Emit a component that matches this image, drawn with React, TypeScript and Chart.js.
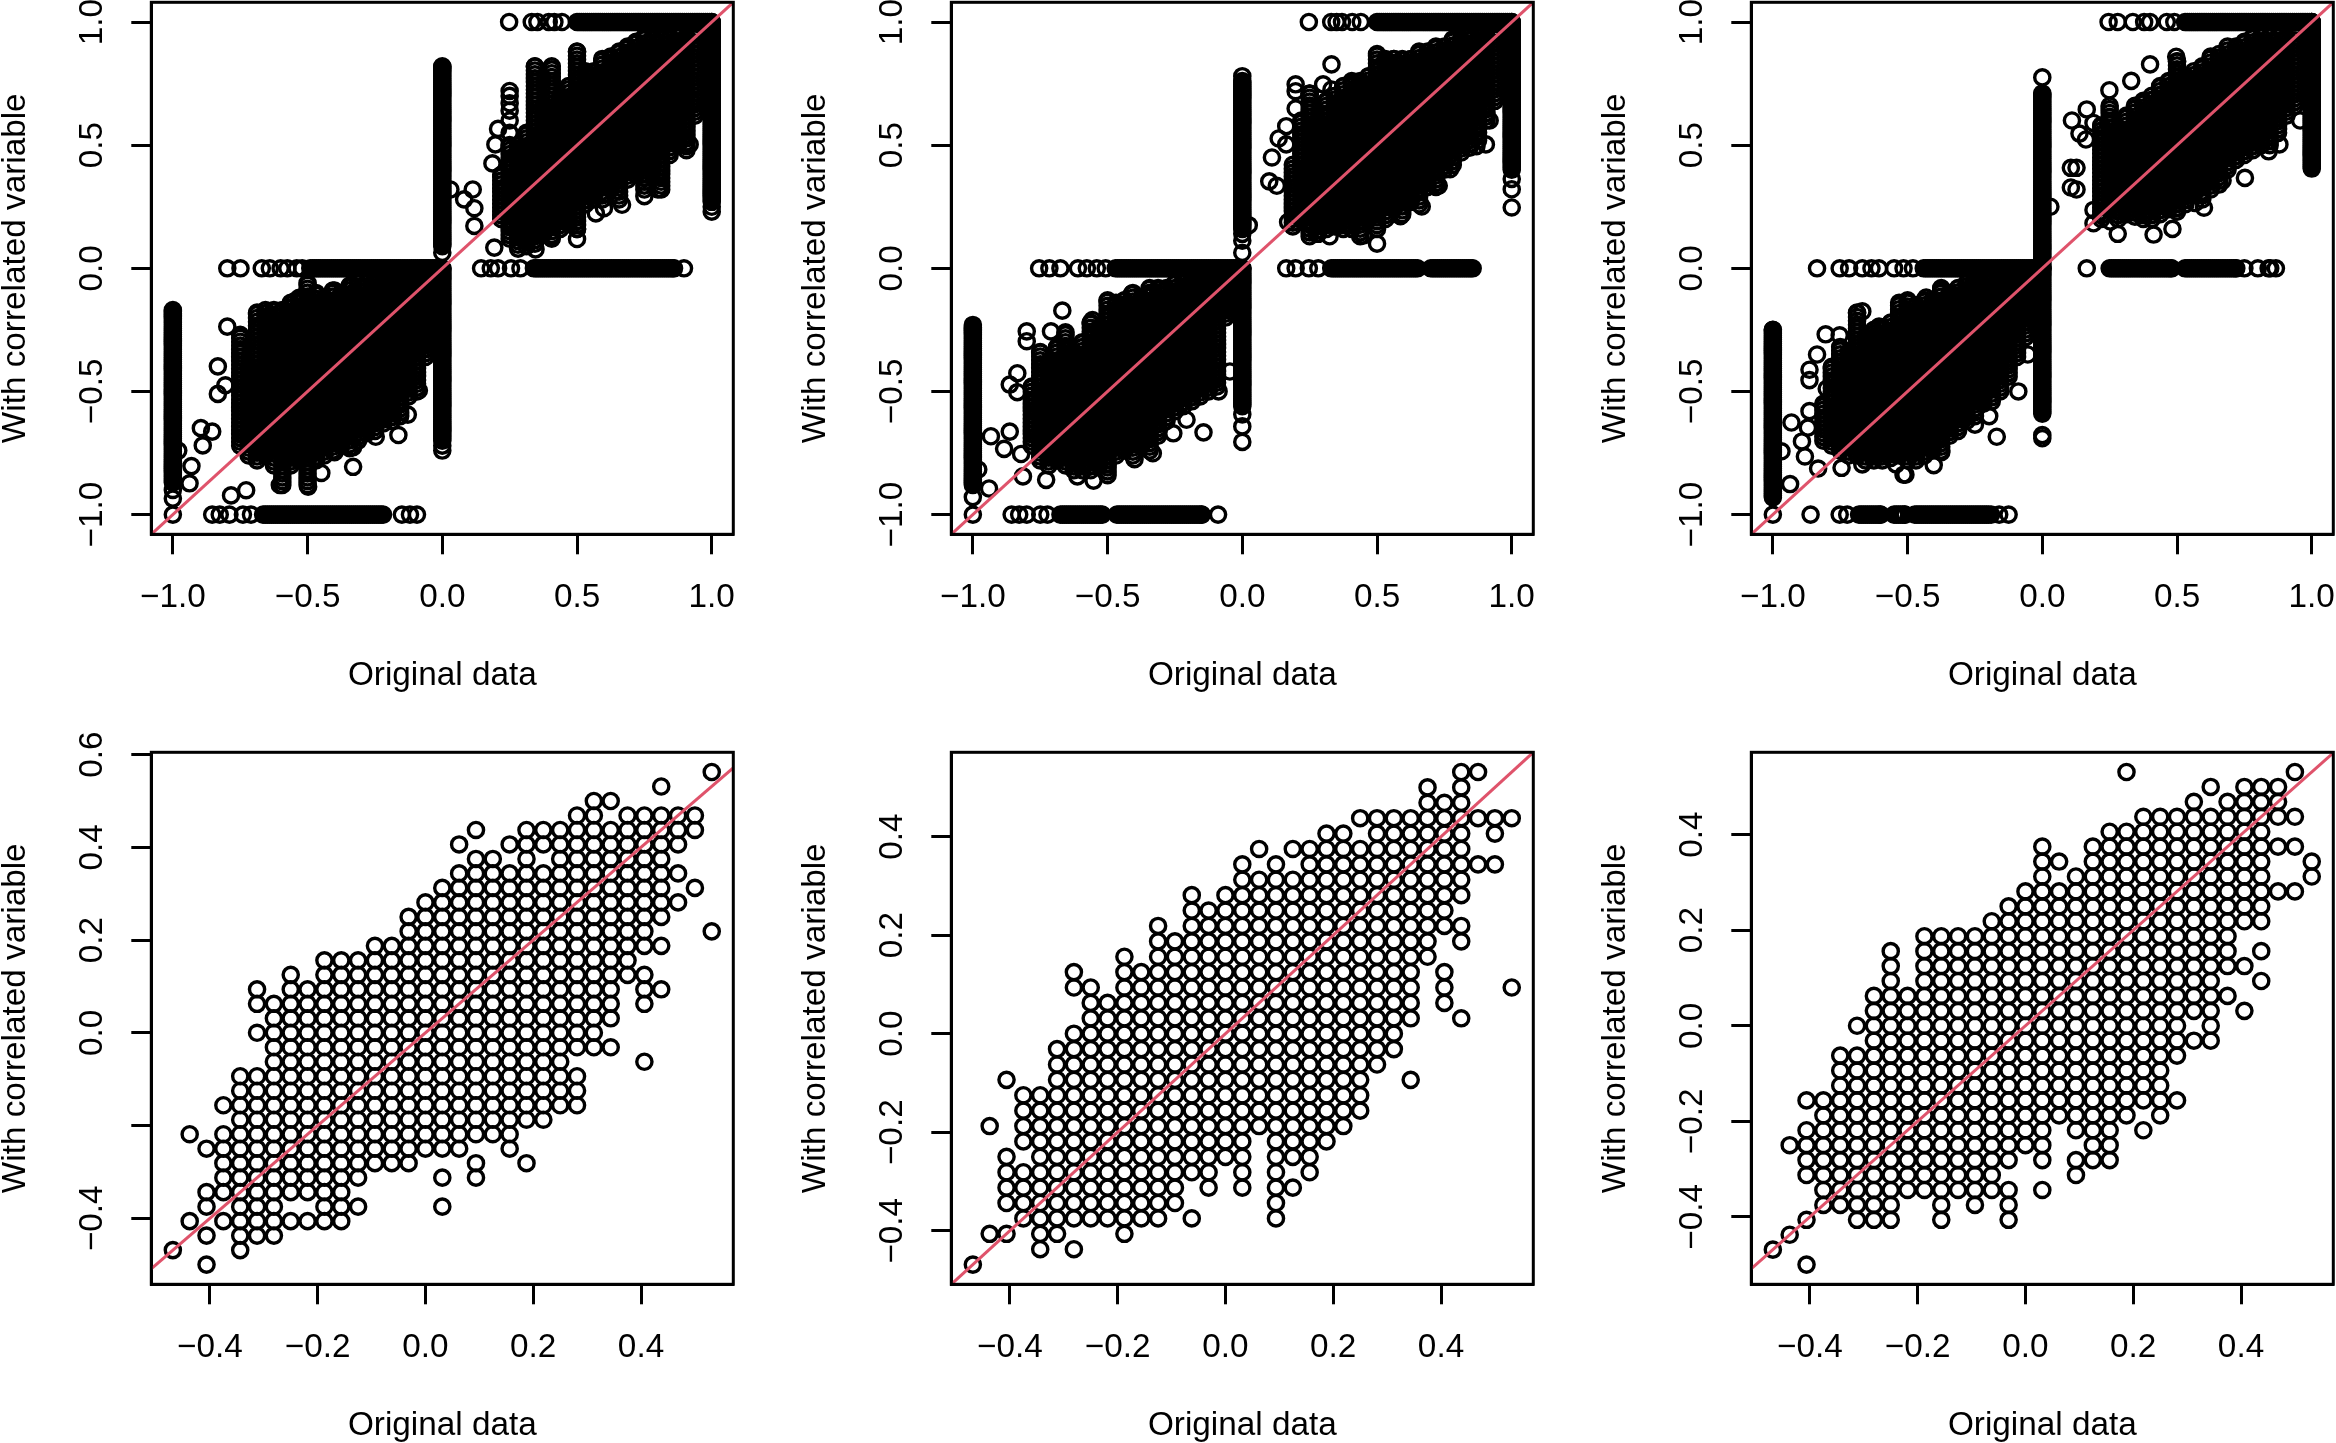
import React, { useEffect, useRef } from "react";
import Chart from "chart.js/auto";

const xTitle = "Original data";
const yTitle = "With correlated variable";

// ---- tick values and labels ----
const topTicks = [-1, -0.5, 0, 0.5, 1];
const topTickLabels = ["\u22121.0", "\u22120.5", "0.0", "0.5", "1.0"];
const lowXTicks = [-0.4, -0.2, 0, 0.2, 0.4];
const lowXLabels = ["\u22120.4", "\u22120.2", "0.0", "0.2", "0.4"];
const p4YTicks = [-0.4, -0.2, 0, 0.2, 0.4, 0.6];
const p4YLabels = ["\u22120.4", "", "0.0", "0.2", "0.4", "0.6"];
const p56YTicks = [-0.4, -0.2, 0, 0.2, 0.4];
const p56YLabels = ["\u22120.4", "\u22120.2", "0.0", "0.2", "0.4"];

// ---- bottom row: values sit on a 1/32 grid. [column, hi, lo, hi, lo, ...] ----
const p4Cols = [
  [-15,-15,-15],[-14,-7,-7,-13,-13],[-13,-8,-8,-11,-12,-14,-14,-16,-16],[-12,-5,-5,-7,-11,-13,-13],
  [-11,-3,-15],[-10,3,2,0,0,-3,-14],[-9,2,-14],[-8,4,-11,-13,-13],[-7,3,-11,-13,-13],[-6,5,-13],[-5,5,-13],
  [-4,5,-10,-12,-12],[-3,6,-9],[-2,6,-9],[-1,8,-9],[0,9,-8],[1,10,-8,-10,-10,-12,-12],[2,13,13,11,-8],
  [3,14,14,12,-7,-9,-10],[4,12,-7],[5,13,13,11,-8],[6,14,-6,-9,-9],[7,14,13,11,-6],[8,14,-5],[9,15,-1,-3,-5],
  [10,16,-1],[11,16,16,14,1,-1,-1],[12,15,4],[13,15,6,4,2,-2,-2],[14,17,17,15,8,6,6,3,3],[15,15,13,11,11,9,9],
  [16,15,14,10,10],[17,18,18,7,7],
];
const p5Cols = [
  [-15,-15,-15],[-14,-6,-6,-13,-13],[-13,-3,-3,-8,-11,-13,-13],[-12,-4,-7,-9,-12],[-11,-4,-14],[-10,-1,-13],
  [-9,4,3,0,-12,-14,-14],[-8,3,-12],[-7,2,-12],[-6,5,-13],[-5,4,-12],[-4,7,-12],[-3,6,-11],[-2,9,-9,-12,-12],
  [-1,8,-10],[0,9,-8],[1,11,-10],[2,12,12,10,-6],[3,11,-12],[4,12,12,10,-8,-10,-10],[5,12,-9],[6,13,-7],[7,13,-6],
  [8,14,14,12,-5],[9,14,-2],[10,14,-1],[11,14,1,-3,-3],[12,16,5],[13,15,7,4,2],[14,17,9,7,6,1,1],
  [15,17,17,14,14,11,11],[16,14,13,11,11],[17,14,14,3,3],
];
const p6Cols = [
  [-15,-15,-15],[-14,-8,-8,-14,-14],[-13,-5,-5,-7,-10,-13,-13,-16,-16],[-12,-5,-12],[-11,-2,-12],[-10,0,0,-2,-13],
  [-9,2,-13],[-8,5,-13],[-7,2,-11],[-6,6,-11],[-5,6,-13],[-4,6,-11],[-3,6,-12],[-2,7,-11],[-1,8,-9,-11,-13],
  [0,9,-8],[1,12,-9,-11,-11],[2,11,11,9,-6],[3,10,-7,-9,-10],[4,12,-9],[5,13,-9],[6,17,17,13,-6],[7,14,-5,-7,-7],
  [8,14,-6],[9,14,-2,-5,-5],[10,15,1,-1,-1],[11,16,16,14,-1],[12,15,4,2,2],[13,16,7,4,4,1,1],[14,16,7,5,5,3,3],
  [15,16,14,12,12,9,9],[16,17,17,14,14,12,12,9,9],[17,11,10],
];

// ---- top row: solid clouds read as [column/32, y low, y high] ----
const p1Core = [
  [7,.2,.38],[8,.12,.5],[9,.08,.5],[10,.09,.55],[11,.1,.82],[12,.14,.66],[13,.12,.82],[14,.16,.7],[15,.18,.74],
  [16,.16,.88],[17,.26,.8],[18,.28,.8],[19,.28,.85],[20,.32,.86],[21,.28,.88],[22,.36,.9],[23,.38,.92],[24,.32,.94],
  [25,.4,.94],[26,.32,.94],[27,.46,.94],[28,.5,.94],[29,.48,.94],[30,.62,.96],
  [-24,-.72,-.27],[-23,-.76,-.4],[-22,-.78,-.18],[-21,-.76,-.17],[-20,-.8,-.17],[-19,-.88,-.17],[-18,-.8,-.14],
  [-17,-.78,-.12],[-16,-.88,-.06],[-15,-.78,-.1],[-14,-.76,-.12],[-13,-.74,-.09],[-12,-.72,-.1],[-11,-.73,-.07],
  [-10,-.7,-.06],[-9,-.67,-.06],[-8,-.66,-.04],[-7,-.63,-.02],[-6,-.62,-.02],[-5,-.6,-.02],[-4,-.52,-.02],
  [-3,-.5,-.02],[-2,-.36,-.02],[-1,-.33,-.02],
];
const p2Core = [
  [6,.17,.42],[7,.2,.6],[8,.13,.71],[9,.14,.6],[10,.16,.68],[11,.17,.7],[12,.16,.74],[13,.16,.76],[14,.13,.76],
  [15,.2,.78],[16,.16,.87],[17,.2,.85],[18,.24,.85],[19,.22,.85],[20,.27,.85],[21,.26,.88],[22,.33,.88],[23,.33,.9],
  [24,.4,.9],[25,.42,.93],[26,.47,.93],[27,.49,.94],[28,.52,.94],[29,.6,.94],[30,.68,.96],
  [-25,-.72,-.48],[-24,-.78,-.34],[-23,-.8,-.38],[-22,-.78,-.32],[-21,-.8,-.26],[-20,-.82,-.34],[-19,-.82,-.3],
  [-18,-.82,-.22],[-17,-.8,-.24],[-16,-.84,-.13],[-15,-.76,-.14],[-14,-.74,-.13],[-13,-.76,-.1],[-12,-.72,-.12],
  [-11,-.74,-.08],[-10,-.68,-.08],[-9,-.62,-.08],[-8,-.58,-.06],[-7,-.56,-.03],[-6,-.54,-.03],[-5,-.52,-.02],
  [-4,-.5,-.02],[-3,-.48,-.02],[-2,-.2,-.02],[-1,-.18,-.02],
];
const p3Core = [
  [7,.2,.58],[8,.24,.66],[9,.2,.56],[10,.22,.62],[11,.21,.66],[12,.2,.68],[13,.2,.7],[14,.22,.74],[15,.24,.76],
  [16,.23,.84],[17,.26,.78],[18,.3,.8],[19,.28,.82],[20,.32,.86],[21,.34,.87],[22,.4,.9],[23,.44,.9],[24,.46,.92],
  [25,.48,.94],[26,.5,.94],[27,.5,.94],[28,.55,.94],[29,.62,.94],[30,.66,.96],
  [-26,-.7,-.55],[-25,-.72,-.4],[-24,-.74,-.32],[-23,-.76,-.34],[-22,-.76,-.18],[-21,-.78,-.28],[-20,-.78,-.25],
  [-19,-.78,-.24],[-18,-.77,-.22],[-17,-.76,-.14],[-16,-.78,-.13],[-15,-.78,-.15],[-14,-.76,-.13],[-13,-.74,-.13],
  [-12,-.74,-.08],[-11,-.68,-.1],[-10,-.66,-.08],[-9,-.62,-.06],[-8,-.6,-.05],[-7,-.55,-.03],[-6,-.54,-.02],
  [-5,-.5,-.02],[-4,-.44,-.02],[-3,-.36,-.02],[-2,-.28,-.02],[-1,-.2,-.02],
];

// vertical strips [x, y low, y high] and horizontal strips [y, x low, x high]
const p1Strips = [[-1,-.87,-.17],[0,-.7,0],[0,.09,.82],[1,.27,1]];
const p1Rows = [[1,.5,1],[0,-.49,0],[0,.34,.86],[-1,-.665,-.22]];
const p2Strips = [[-1,-.88,-.24],[0,-.56,0],[0,.16,.76],[1,.4,1]];
const p2Rows = [[1,.5,1],[0,-.47,0],[0,.33,.65],[0,.7,.855],[-1,-.675,-.52],[-1,-.465,-.15]];
const p3Strips = [[-1,-.93,-.25],[0,-.59,0],[0,0,.71],[1,.405,1]];
const p3Rows = [[1,.53,1],[0,-.44,0],[0,.25,.48],[0,.53,.72],[-1,-.68,-.6],[-1,-.55,-.51],[-1,-.473,-.2]];

// single readable points [x, y]
const p1Single = [
  [-1,-.9],[-1,-.935],[-1,-1],[0,-.72],[0,-.74],[0,.063],[.03,.32],[1,.25],[1,.23],
  [.248,1],[.332,1],[.353,1],[.395,1],[.416,1],[.444,1],
  [.25,.72],[.25,.7],[.25,.67],[.25,.64],[.25,.6],[.25,.55],
  [-.798,0],[-.749,0],[-.67,0],[-.64,0],[-.6,0],[-.575,0],[-.54,0],[-.52,0],
  [.144,0],[.18,0],[.207,0],[.255,0],[.29,0],[.897,0],
  [-.854,-1],[-.826,-1],[-.79,-1],[-.74,-1],[-.71,-1],[-.15,-1],[-.12,-1],[-.094,-1],
  [.113,.32],[.081,.28],[.119,.244],[.119,.172],[.193,.084],[.346,.077],[.5,.119],[.5,.16],[.402,.126],[.57,.223],
  [.6,.244],[.667,.258],[.75,.293],[.8,.32],[.8,.39],[.918,.503],[.89,.53],[.925,.677],[.207,.566],[.197,.503],[.186,.426],
  [-.798,-.237],[-.833,-.398],[-.833,-.51],[-.805,-.475],[-.896,-.649],[-.854,-.663],[-.889,-.719],[-.931,-.803],
  [-.938,-.873],[-.98,-.74],[-.784,-.922],[-.728,-.901],[-.603,-.88],[-.498,-.887],[-.449,-.831],[-.331,-.806],
  [-.4,-.747],[-.331,-.726],[-.247,-.684],[-.163,-.677],[-.128,-.594],[-.087,-.496],[-.4,-.09],[-.547,-.133],[-.331,-.07],
];
const p2Single = [
  [-1,-.23],[-1,-.929],[-1,-1],[-.94,-.894],[-.98,-.817],[0,-.705],[0,-.642],[0,-.593],[0,.78],[0,.063],[0,.112],[0,.14],
  [.024,.175],[1,.247],[1,.321],[1,.363],
  [.247,1],[.33,1],[.35,1],[.37,1],[.408,1],[.44,1],
  [-.754,0],[-.716,0],[-.675,0],[-.61,0],[-.577,0],[-.54,0],[-.507,0],
  [.163,0],[.198,0],[.247,0],[.282,0],
  [-.856,-1],[-.828,-1],[-.8,-1],[-.75,-1],[-.723,-1],[-.09,-1],
  [.331,.828],[.198,.747],[.198,.719],[.198,.649],[.3,.747],[.331,.726],[.25,.709],[.408,.747],[.163,.577],[.135,.527],
  [.163,.503],[.11,.45],[.1,.353],[.128,.335],[.17,.188],[.275,.14],[.324,.13],[.45,.133],[.5,.1],[.587,.212],[.666,.251],
  [.729,.335],[.771,.402],[.904,.503],[.869,.496],[.918,.6],[.859,.566],
  [-.668,-.172],[-.71,-.256],[-.8,-.256],[-.8,-.296],[-.835,-.426],[-.863,-.472],[-.835,-.503],[-.863,-.663],[-.933,-.682],
  [-.884,-.733],[-.821,-.754],[-.814,-.845],[-.728,-.859],[-.612,-.845],[-.552,-.862],[-.5,-.796],[-.4,-.775],[-.332,-.751],
  [-.256,-.67],[-.144,-.666],[-.207,-.615],[-.088,-.5],[-.046,-.419],[-.095,-.426],[-.41,-.105],[-.556,-.21],[-.33,-.098],
];
const p3Single = [
  [-1,-1],[-.936,-.876],[-.968,-.743],[0,-.677],[0,-.69],[0,.775],[.03,.25],
  [.246,1],[.28,1],[.336,1],[.378,1],[.4,1],[.462,1],[.49,1],
  [-.836,0],[-.752,0],[-.717,0],[-.668,0],[-.634,0],[-.606,0],[-.55,0],[-.515,0],[-.48,0],
  [.165,0],[.75,0],[.8,0],[.84,0],[.846,0],[.867,0],
  [-.86,-1],[-.752,-1],[-.724,-1],[-.19,-1],[-.16,-1],[-.125,-1],
  [.4,.828],[.497,.859],[.33,.761],[.249,.723],[.165,.645],[.11,.6],[.138,.547],[.162,.523],[.19,.59],[.127,.408],[.106,.408],
  [.106,.328],[.127,.32],[.19,.237],[.19,.183],[.28,.14],[.253,.19],[.413,.137],[.483,.16],[.6,.246],[.567,.265],[.497,.244],
  [.669,.356],[.752,.367],[.88,.503],[.84,.475],[.957,.6],
  [-.668,-.175],[-.606,-.237],[-.752,-.272],[-.804,-.268],[-.836,-.35],[-.864,-.412],[-.864,-.454],[-.8,-.489],[-.864,-.58],
  [-.931,-.626],[-.87,-.647],[-.892,-.703],[-.881,-.764],[-.832,-.813],[-.745,-.81],[-.668,-.796],[-.543,-.796],[-.508,-.838],
  [-.515,-.838],[-.403,-.799],[-.375,-.747],[-.25,-.635],[-.169,-.684],[-.197,-.6],[-.089,-.5],[-.054,-.35],[-.431,-.119],
  [-.375,-.088],[-.257,-.063],
];

const diagonal = [{ x: -2, y: -2 }, { x: 2, y: 2 }];

type Pt = { x: number; y: number };

function fromGridColumns(cols: number[][]): Pt[] {
  const out: Pt[] = [];
  for (const c of cols) {
    for (let i = 1; i < c.length; i += 2) {
      for (let j = c[i]; j >= c[i + 1]; j--) out.push({ x: c[0] / 32, y: j / 32 });
    }
  }
  return out;
}

function fromCloud(core: number[][], strips: number[][], rows: number[][], single: number[][]): Pt[] {
  const out: Pt[] = [];
  for (const [k, lo, hi] of core) {
    for (let y = lo; y < hi; y += 1 / 64) out.push({ x: k / 32, y });
    out.push({ x: k / 32, y: hi });
  }
  for (const [x, lo, hi] of strips) {
    for (let y = lo; y < hi; y += 1 / 128) out.push({ x, y });
    out.push({ x, y: hi });
  }
  for (const [y, lo, hi] of rows) {
    for (let x = lo; x < hi; x += 1 / 128) out.push({ x, y });
    out.push({ x: hi, y });
  }
  for (const [x, y] of single) out.push({ x, y });
  return out;
}

const FONT = "'Liberation Sans', Arial, sans-serif";
const LW = 3;

const boxPlugin = {
  id: "box",
  afterDatasetsDraw(chart: any) {
    const { ctx, chartArea: a } = chart;
    ctx.save();
    ctx.strokeStyle = "#000";
    ctx.lineWidth = LW;
    ctx.strokeRect(a.left, a.top, a.right - a.left, a.bottom - a.top);
    ctx.restore();
  },
};

type PanelDef = {
  left: number; top: number;
  pts: Pt[];
  xr: number[]; yr: number[];
  xt: number[]; xl: string[]; yt: number[]; yl: string[];
};

// every canvas starts 50px above its frame, so tick labels above the frame are kept
const CW = 800, CH = 800;
const PLOT_TOP = 52.3, PLOT_BOTTOM = 584.3, PLOT_LEFT = 151.3, PLOT_RIGHT = 733.3, XH = 155;

const panels: PanelDef[] = [
  { left: 0, top: -50, pts: fromCloud(p1Core, p1Strips, p1Rows, p1Single), xr: [-1.08, 1.08], yr: [-1.08, 1.08], xt: topTicks, xl: topTickLabels, yt: topTicks, yl: topTickLabels },
  { left: 800, top: -50, pts: fromCloud(p2Core, p2Strips, p2Rows, p2Single), xr: [-1.08, 1.08], yr: [-1.08, 1.08], xt: topTicks, xl: topTickLabels, yt: topTicks, yl: topTickLabels },
  { left: 1600, top: -50, pts: fromCloud(p3Core, p3Strips, p3Rows, p3Single), xr: [-1.08, 1.08], yr: [-1.08, 1.08], xt: topTicks, xl: topTickLabels, yt: topTicks, yl: topTickLabels },
  { left: 0, top: 700, pts: fromGridColumns(p4Cols), xr: [-0.50875, 0.57125], yr: [-0.5425, 0.605], xt: lowXTicks, xl: lowXLabels, yt: p4YTicks, yl: p4YLabels },
  { left: 800, top: 700, pts: fromGridColumns(p5Cols), xr: [-0.50875, 0.57125], yr: [-0.50875, 0.57125], xt: lowXTicks, xl: lowXLabels, yt: p56YTicks, yl: p56YLabels },
  { left: 1600, top: 700, pts: fromGridColumns(p6Cols), xr: [-0.50875, 0.57125], yr: [-0.54125, 0.5725], xt: lowXTicks, xl: lowXLabels, yt: p56YTicks, yl: p56YLabels },
];

function Panel({ def }: { def: PanelDef }) {
  const ref = useRef<HTMLCanvasElement | null>(null);
  useEffect(() => {
    if (!ref.current) return;
    const font = { family: FONT, size: 33.3 };
    const grid = { display: true, drawOnChartArea: false, drawTicks: true, tickLength: 20, tickWidth: LW, tickColor: "#000", color: "#000" };
    const noPad = (s: any) => { s.paddingTop = 0; s.paddingBottom = 0; s.paddingLeft = 0; s.paddingRight = 0; };
    const chart = new Chart(ref.current, {
      type: "scatter",
      data: {
        datasets: [
          { type: "line", data: diagonal, borderColor: "#DF536B", borderWidth: 3, pointRadius: 0, fill: false, clip: 0, tension: 0 },
          { data: def.pts, pointStyle: "circle", pointRadius: 7.6, pointBorderWidth: 3.4, pointBorderColor: "#000", pointBackgroundColor: "rgba(0,0,0,0)", showLine: false, clip: 0 },
        ],
      } as any,
      options: {
        animation: false,
        responsive: false,
        devicePixelRatio: 1,
        events: [],
        layout: { padding: { left: 0, top: PLOT_TOP, right: CW - PLOT_RIGHT, bottom: CH - PLOT_BOTTOM - XH } },
        plugins: { legend: { display: false }, tooltip: { enabled: false } },
        scales: {
          x: {
            type: "linear", position: "bottom", min: def.xr[0], max: def.xr[1],
            afterBuildTicks: (s: any) => { s.ticks = def.xt.map((value) => ({ value })); },
            afterFit: (s: any) => { s.height = XH; noPad(s); },
            ticks: { autoSkip: false, maxRotation: 0, minRotation: 0, color: "#000", font, padding: 24, callback: (v: any) => def.xl[def.xt.indexOf(v)] },
            grid, border: { display: true, color: "#000", width: LW },
            title: { display: true, text: xTitle, color: "#000", font: { ...font, lineHeight: 0.8 }, padding: 0 },
          },
          y: {
            type: "linear", position: "left", min: def.yr[0], max: def.yr[1],
            afterBuildTicks: (s: any) => { s.ticks = def.yt.map((value) => ({ value })); },
            afterFit: (s: any) => { s.width = PLOT_LEFT; noPad(s); },
            ticks: { autoSkip: false, maxRotation: 90, minRotation: 90, crossAlign: "center", color: "#000", font, padding: 5.3, callback: (v: any) => def.yl[def.yt.indexOf(v)] },
            grid, border: { display: true, color: "#000", width: LW },
            title: { display: true, text: yTitle, color: "#000", font: { ...font, lineHeight: 0.8 }, padding: { top: 3, bottom: 0 } },
          },
        },
      },
      plugins: [boxPlugin],
    } as any);
    return () => chart.destroy();
  }, [def]);
  return (
    <canvas
      ref={ref}
      width={CW}
      height={CH}
      style={{ position: "absolute", left: def.left, top: def.top, width: CW, height: CH }}
    />
  );
}

export default function App() {
  return (
    <div style={{ position: "absolute", left: 0, top: 0, width: 2336, height: 1443, overflow: "hidden", background: "#fff" }}>
      {panels.map((p, i) => (
        <Panel key={i} def={p} />
      ))}
    </div>
  );
}
